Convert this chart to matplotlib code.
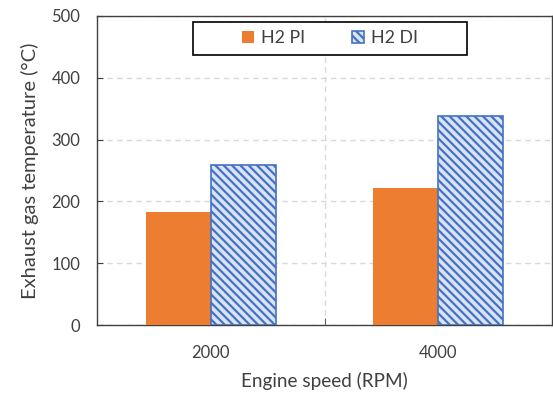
import matplotlib.pyplot as plt
from matplotlib.patches import Rectangle
import numpy as np

plt.rcParams['font.family'] = ['Lato', 'DejaVu Sans']
plt.rcParams['hatch.linewidth'] = 1.6

speeds = ['2000', '4000']
h2_pi = [183, 222]
h2_di = [259, 338]

fig = plt.figure(figsize=(5.53, 3.96), dpi=100)
ax = fig.add_axes([0.1754, 0.179, 0.8228, 0.7806])

x = np.arange(len(speeds))
w = 0.285
ax.bar(x - w/2, h2_pi, w, color='#ED7D31', label='H2 PI', zorder=3)
ax.bar(x + w/2, h2_di, w, color='#DAE3F3', edgecolor='#4472C4', hatch='\\\\\\\\',
       linewidth=1.2, label='H2 DI', zorder=3)

ax.set_xlim(-0.5, 1.5)
ax.set_ylim(0, 500)
ax.set_yticks(range(0, 501, 100))
ax.set_xticks(x)
ax.set_xticklabels(speeds)
ax.tick_params(axis='x', length=0, labelsize=12, pad=14, colors='#404040')
ax.tick_params(axis='y', direction='in', length=4, labelsize=12, pad=12, colors='#404040')
ax.set_xticks([0.5], minor=True)
ax.tick_params(axis='x', which='minor', direction='in', length=5, color='#404040')

ax.grid(axis='y', color='#D9D9D9', linestyle=(0, (4, 3)), linewidth=1, zorder=0)
ax.axvline(0.5, color='#D9D9D9', linestyle=(0, (4, 3)), linewidth=1, zorder=0)

for s in ax.spines.values():
    s.set_color('#404040')
    s.set_linewidth(1)

ax.set_xlabel('Engine speed (RPM)', fontsize=13.6, color='#404040', labelpad=8)
ax.set_ylabel('Exhaust gas temperature (\u00b0C)', fontsize=14.5, color='#404040', labelpad=9)

# legend frame
ax.add_patch(Rectangle((0.211, 0.874), 0.602, 0.107, transform=ax.transAxes,
                       facecolor='white', edgecolor='black', linewidth=1.2, zorder=4))
leg = ax.legend(ncol=2, loc='center', bbox_to_anchor=(0.512, 0.9275), fontsize=12.8,
                frameon=False, handlelength=0.7, handleheight=0.7, handletextpad=0.4,
                columnspacing=2.6, borderaxespad=0)
leg.set_zorder(5)
for t in leg.get_texts():
    t.set_color('#404040')

fig.savefig('out.png', dpi=100)
